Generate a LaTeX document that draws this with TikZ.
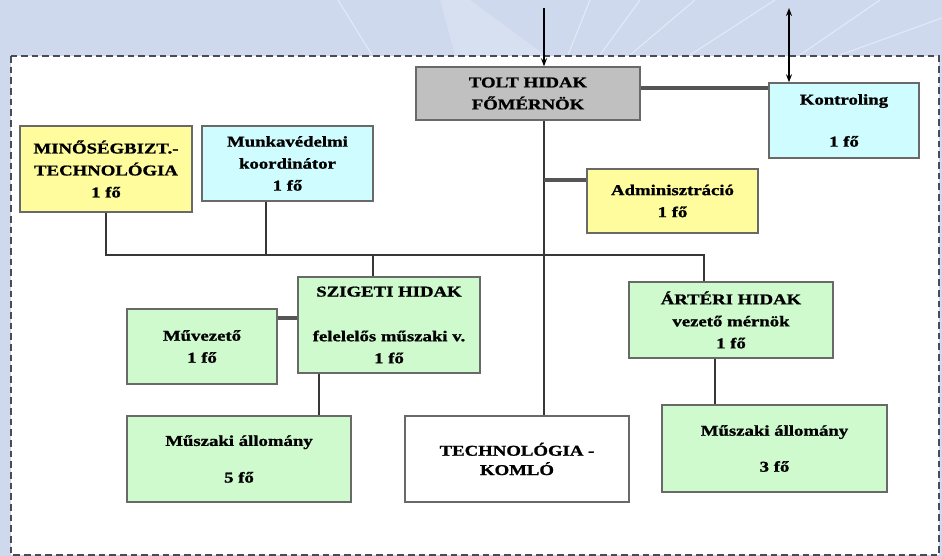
\documentclass[tikz,border=0pt]{standalone}
\usepackage{fontspec}
\setmainfont{Liberation Serif}[FakeStretch=1.25, BoldFeatures={FakeBold=1.2}]
\usetikzlibrary{arrows.meta}

\tikzset{
  box/.style={draw={rgb, 255:red, 105; green, 105; blue, 105 }, line width=1.1pt, align=center, inner sep=2pt,
    font=\fontsize{11.25}{16.5}\selectfont\bfseries},
  graybox/.style={box, fill={rgb, 255:red, 192; green, 192; blue, 192 }},
  yellowbox/.style={box, fill={rgb, 255:red, 255; green, 252; blue, 158 }},
  cyanbox/.style={box, fill={rgb, 255:red, 206; green, 252; blue, 255 }},
  greenbox/.style={box, fill={rgb, 255:red, 206; green, 250; blue, 206 }},
  whitebox/.style={box, fill=white},
  conn/.style={draw={rgb, 255:red, 55; green, 55; blue, 55 }, line width=1.4pt},
  thickconn/.style={draw={rgb, 255:red, 85; green, 85; blue, 85 }, line width=2.3pt},
  arrline/.style={draw=black, line width=0.9pt},
  ray/.style={draw=white, opacity=0.45, line width=0.8pt},
  tip/.tip={Stealth[length=6pt,width=4.5pt]},
}

\begin{document}
\begin{tikzpicture}[x=0.75pt,y=0.75pt,yscale=-1,xscale=1]
\useasboundingbox (0,0) rectangle (942,556);

%Background
\fill[fill={rgb, 255:red, 206; green, 217; blue, 238 }] (0,0) rectangle (942,556);
\begin{scope}
\clip (0,0) rectangle (942,55);
\fill[white, opacity=0.2] (440,0) -- (470,0) -- (545,55) -- (455,55) -- cycle;
\draw[ray] (338,0) -- (372,55);
\draw[ray] (590,0) -- (568,55);
\draw[ray] (640,0) -- (600,55);
\draw[ray] (695,0) -- (630,55);
\draw[ray] (775,0) -- (690,55);
\draw[ray] (880,0) -- (800,55);
\draw[ray] (942,18) -- (840,55);
\end{scope}

%Shape: Rectangle (frame)
\draw[draw={rgb, 255:red, 75; green, 75; blue, 85 }, line width=1.6pt, dash pattern={on 5pt off 3pt}, fill=white] (11,56) rectangle (939,555);

%Shape: Rectangle
\node[graybox, minimum width=168pt, minimum height=39.75pt] (tolt) at (528,93.5) {TOLT HIDAK\\FŐMÉRNÖK};
%Shape: Rectangle
\node[cyanbox, minimum width=112.5pt, minimum height=56.25pt] (kontr) at (844,120.5) {Kontroling\\[15pt]1 fő};
%Shape: Rectangle
\node[yellowbox, minimum width=129pt, minimum height=64.5pt] (minoseg) at (106,169) {MINŐSÉGBIZT.-\\TECHNOLÓGIA\\1 fő};
%Shape: Rectangle
\node[cyanbox, minimum width=128.25pt, minimum height=56.25pt] (munka) at (287.5,163.5) {Munkavédelmi\\koordinátor\\1 fő};
%Shape: Rectangle
\node[yellowbox, minimum width=128.25pt, minimum height=48pt] (admin) at (672.5,201) {Adminisztráció\\1 fő};
%Shape: Rectangle
\node[greenbox, minimum width=136.5pt, minimum height=72pt] (sziget) at (389,325) {SZIGETI HIDAK\\[17pt]felelelős műszaki v.\\1 fő};
%Shape: Rectangle
\node[greenbox, minimum width=112.5pt, minimum height=56.25pt] (muvez) at (202,346.5) {Művezető\\1 fő};
%Shape: Rectangle
\node[greenbox, minimum width=153pt, minimum height=57pt] (arteri) at (731,320) {ÁRTÉRI HIDAK\\vezető mérnök\\1 fő};
%Shape: Rectangle
\node[greenbox, minimum width=168pt, minimum height=64.5pt] (msz5) at (239,459) {Műszaki állomány\\[11pt]5 fő};
%Shape: Rectangle
\node[whitebox, minimum width=168pt, minimum height=64.5pt] (komlo) at (517,459) {TECHNOLÓGIA -\\[-2pt]KOMLÓ};
%Shape: Rectangle
\node[greenbox, minimum width=168.75pt, minimum height=65.25pt] (msz3) at (774.5,448.5) {Műszaki állomány\\[10.5pt]3 fő};

%Straight Lines
\coordinate (topin) at (544,8);
\coordinate (ctrlin) at (789,8);
\draw[arrline, -tip] (topin) -- (topin |- tolt.north);
\draw[arrline, tip-tip] (ctrlin) -- (ctrlin |- kontr.north);

%Straight Lines
\coordinate (ktr) at (640,88);
\coordinate (adm) at (544,180);
\draw[thickconn] (ktr -| tolt.east) -- (ktr -| kontr.west);
\draw[conn, line width=1.1pt] (topin |- tolt.south) -- (topin |- komlo.north);
\draw[thickconn] (adm) -- (adm -| admin.west);

%Straight Lines
\coordinate (busL) at (106,255);
\coordinate (busM) at (266,255);
\coordinate (busS) at (373,255);
\coordinate (busR) at (704,255);
\draw[conn] (minoseg.south) -- (busL) -- (busR) -- (busR |- arteri.north);
\draw[conn] (busM |- munka.south) -- (busM);
\draw[conn] (busS) -- (busS |- sziget.north);

%Straight Lines
\coordinate (mvz) at (277,318);
\coordinate (szv) at (319,400);
\coordinate (arv) at (715,380);
\draw[thickconn] (mvz -| muvez.east) -- (mvz -| sziget.west);
\draw[conn] (szv |- sziget.south) -- (szv |- msz5.north);
\draw[conn] (arv |- arteri.south) -- (arv |- msz3.north);

\end{tikzpicture}
\end{document}
